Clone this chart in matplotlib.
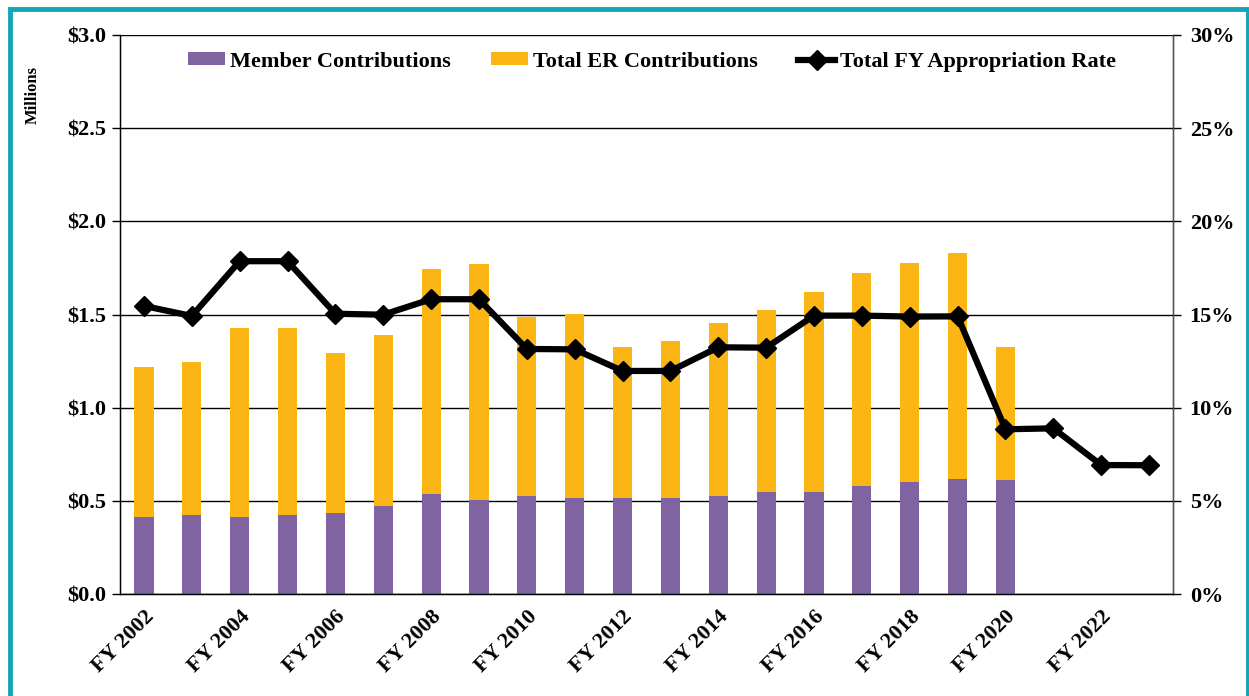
import matplotlib
matplotlib.use("Agg")
import matplotlib.pyplot as plt
import matplotlib.patches as mpatches
from matplotlib.ticker import FuncFormatter, MultipleLocator
import numpy as np

years = list(range(2002, 2024))
categories = [f"FY {y}" for y in years]
member = [0.412, 0.422, 0.415, 0.424, 0.435, 0.474, 0.538, 0.506, 0.528, 0.515,
          0.515, 0.515, 0.526, 0.546, 0.546, 0.581, 0.601, 0.619, 0.614]
total_er_top = [1.219, 1.243, 1.428, 1.430, 1.295, 1.388, 1.746, 1.771, 1.487, 1.501,
                1.326, 1.356, 1.456, 1.524, 1.623, 1.725, 1.778, 1.828, 1.327]
rate = [15.46, 14.92, 17.86, 17.86, 15.04, 14.99, 15.82, 15.82, 13.15, 13.13,
        11.97, 11.97, 13.24, 13.22, 14.94, 14.94, 14.89, 14.90, 8.84, 8.89, 6.92, 6.91]
total_er = [t - m for t, m in zip(total_er_top, member)]

purple = "#8064A2"
gold = "#FBB615"
teal = "#12A5B4"
serif = ["Liberation Serif", "DejaVu Serif"]
plt.rcParams['font.family'] = serif
plt.rcParams['font.weight'] = 'bold'

fig = plt.figure(figsize=(12.49, 6.96), dpi=100)
W, H = 1249, 696
ax = fig.add_axes([120 / W, 1 - 594 / H, (1173 - 120) / W, (594 - 35) / H])

# teal frame
fig.patches.append(mpatches.Rectangle((9.5 / W, -0.1), (1247.5 - 9.5) / W, 1.1 - 9.5 / H,
                                      transform=fig.transFigure, fill=False,
                                      edgecolor=teal, linewidth=3.5, zorder=0))

xb = np.arange(len(member))
ax.bar(xb, member, width=0.4, color=purple, label="Member Contributions", zorder=2)
ax.bar(xb, total_er, width=0.4, bottom=member, color=gold, label="Total ER Contributions", zorder=2)

ax.set_ylim(0, 3.0)
ax.set_xlim(-0.5, len(categories) - 0.5)
ax.yaxis.set_major_locator(MultipleLocator(0.5))
ax.yaxis.set_major_formatter(FuncFormatter(lambda v, p: f"${v:.1f}"))
ax.grid(axis='y', color='black', linewidth=1.0, zorder=0)
ax.set_axisbelow(True)
ax.set_xticks(np.arange(0, len(categories), 2))
ax.set_xticklabels(categories[::2], rotation=45, ha='right', rotation_mode='anchor')
ax.tick_params(axis='x', length=0, pad=9, labelsize=16)
ax.tick_params(axis='y', length=6, width=1, labelsize=16, pad=4)
fig.text(33 / W, 1 - 95 / H, "Millions", rotation=90, ha='center', va='center',
         fontsize=12, fontweight='bold')
ax.spines['top'].set_visible(False)
for s in ['left', 'bottom', 'right']:
    ax.spines[s].set_linewidth(1.0)

ax2 = ax.twinx()
ax2.plot(np.arange(len(rate)), rate, color='black', linewidth=4.5, marker='D',
         markersize=10, label="Total FY Appropriation Rate", zorder=5)
ax2.set_ylim(0, 30)
ax2.yaxis.set_major_locator(MultipleLocator(5))
ax2.yaxis.set_major_formatter(FuncFormatter(lambda v, p: f"{v:.0f}%"))
ax2.tick_params(axis='y', length=6, width=1, labelsize=16, pad=6)
ax2.spines['top'].set_visible(False)
ax2.spines['right'].set_color('#555555')

h1, l1 = ax.get_legend_handles_labels()
h2, l2 = ax2.get_legend_handles_labels()
leg = ax2.legend(h1 + h2, l1 + l2, loc='upper center', ncol=3, frameon=False,
                 bbox_to_anchor=(0.505, 1.0), prop={'family': serif, 'weight': 'bold', 'size': 16},
                 handlelength=1.7, handleheight=0.5, handletextpad=0.2, columnspacing=1.8,
                 borderaxespad=0.35)

fig.savefig("out.png", dpi=100)
